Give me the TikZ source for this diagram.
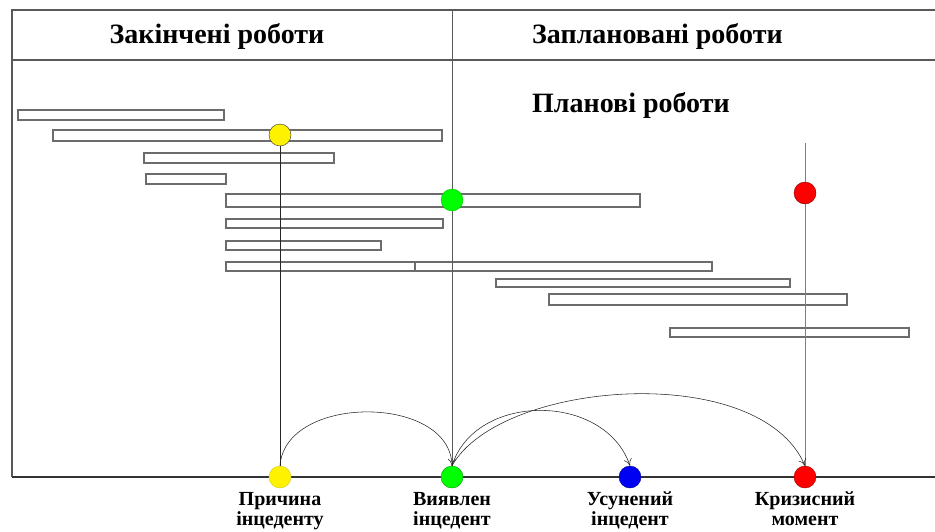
\documentclass[tikz,border=0pt]{standalone}
\usepackage{fontspec}
\setmainfont{Liberation Serif}
\usetikzlibrary{arrows.meta}

\begin{document}
\begin{tikzpicture}[x=1pt, y=-1pt]
  % стилі
  \tikzstyle{frame}=[draw=gray!70!black, line width=1.2pt]
  \tikzstyle{bar}=[draw=gray!85!black, fill=white, line width=1.1pt]
  \tikzstyle{dot}=[circle, draw=black!80, minimum size=22pt, inner sep=0pt]
  \tikzstyle{title}=[font=\fontsize{28}{32}\selectfont\bfseries, anchor=base, inner sep=0pt]
  \tikzstyle{caption}=[font=\fontsize{20}{20}\selectfont\bfseries, align=center, anchor=base, inner sep=0pt]
  \tikzstyle{hop}=[-{To[length=7pt,width=8pt]}, line width=0.55pt, black!85]

  \useasboundingbox (0,0) rectangle (935,531);

  % рамка та шкала часу
  \draw[frame] (12,477) -- (12,10) -- (935,10);
  \draw[frame] (12,60) -- (935,60);
  \draw[frame, draw=black!80] (12,477) -- (935,477);

  % заголовки
  \node[title] (done) at (217,43) {Закінчені роботи};
  \node[title, anchor=base west] (planned) at (532,43) {Заплановані роботи};
  \node[title, anchor=base west] (plan) at (532,112) {Планові роботи};

  % роботи
  \foreach \xa/\xb/\ya/\yb in {18/224/110/120, 53/442/130/141, 144/334/153/163,
      146/226/174/184, 226/640/194/207, 226/443/219/228, 226/381/241/250,
      226/415/262/271, 415/712/262/271, 496/790/279/287, 549/847/294/305,
      670/909/328/337}
    \draw[bar] (\xa,\ya) rectangle (\xb,\yb);

  % точки на роботах
  \node[dot, fill=yellow] (ytop) at (280,135) {};
  \node[dot, fill=green, draw=green!80!black] (gtop) at (452,200) {};
  \node[dot, fill=red, draw=red!50!black] (rtop) at (805,193) {};

  % точки на шкалі
  \node[dot, fill=yellow, draw=yellow!80!black] (ybot) at (280,477) {};
  \node[dot, fill=green, draw=green!60!black] (gbot) at (452,477) {};
  \node[dot, fill=blue!95!black, draw=blue!50!black] (bbot) at (630,477) {};
  \node[dot, fill=red, draw=red!60!black] (rbot) at (805,477) {};

  % вертикальні лінії
  \coordinate (divtop) at (452,10);
  \coordinate (rline) at (805,143);
  \draw[black!85, line width=0.8pt] (ytop) -- (ybot);
  \draw[gray!70!black, line width=0.9pt] (divtop) -- (gtop) -- (gbot);
  \draw[gray, line width=0.9pt] (rline) -- (rtop) -- (rbot);

  % переходи
  \draw[hop] (ybot.north) .. controls (285,394) and (450,394) .. (gbot.north);
  \draw[hop] (gbot.north) .. controls (475,392) and (605,392) .. (bbot.north);
  \draw[hop] (gbot.north) .. controls (500,380) and (760,360) .. (rbot.north);

  % підписи
  \node[caption] (cause) at (280,525) {Причина\\інцеденту};
  \node[caption] (found) at (452,525) {Виявлен\\інцедент};
  \node[caption] (fixed) at (630,525) {Усунений\\інцедент};
  \node[caption] (crisis) at (805,525) {Кризисний\\момент};
\end{tikzpicture}
\end{document}
